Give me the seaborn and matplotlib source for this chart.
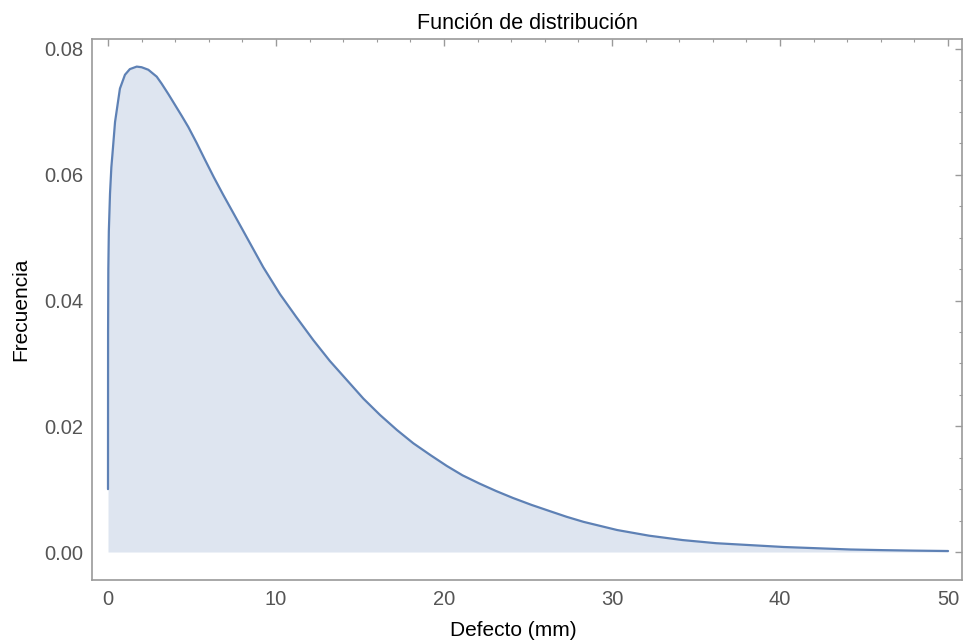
import matplotlib
matplotlib.use("Agg")
import matplotlib.pyplot as plt
from matplotlib.ticker import MultipleLocator, FormatStrFormatter
import seaborn as sns
import pandas as pd

# Values
defecto = [0.0, 0.005, 0.02, 0.05, 0.12, 0.2, 0.26, 0.42, 0.71, 1.01, 1.3,
           1.71, 2.0, 2.4, 2.9, 3.19, 3.6, 3.99, 4.38, 4.78, 5.27, 5.77, 6.3,
           6.86, 7.4, 7.96, 8.6, 9.24, 10.24, 11.2, 12.22, 13.2, 14.2, 15.2,
           16.19, 17.2, 18.17, 19.2, 20.16, 21.1, 22.1, 23.1, 24.1, 25.2, 26.3,
           27.3, 28.3, 30.3, 32.2, 34.2, 36.2, 38.2, 40.2, 42.2, 44.2, 46.1,
           48.0, 50.0]
frecuencia = [0.0100, 0.035, 0.045, 0.051, 0.057, 0.0612, 0.0631, 0.0684,
              0.0737, 0.0759, 0.0768, 0.0772, 0.0771, 0.0767, 0.0756, 0.0745,
              0.0728, 0.0711, 0.0694, 0.0676, 0.0651, 0.0624, 0.0596, 0.0568,
              0.0542, 0.0515, 0.0484, 0.0453, 0.0410, 0.0374, 0.0337, 0.0304,
              0.0274, 0.0244, 0.0218, 0.0194, 0.0173, 0.0154, 0.0137, 0.0122,
              0.0109, 0.0097, 0.0086, 0.0075, 0.0065, 0.0056, 0.0048, 0.0035,
              0.0026, 0.0019, 0.0014, 0.0011, 0.0008, 0.0006, 0.0004, 0.0003,
              0.00022, 0.00016]
x_ticks = [0, 10, 20, 30, 40, 50]
y_ticks = [0.00, 0.02, 0.04, 0.06, 0.08]
titulo = "Función de distribución"
x_label = "Defecto (mm)"
y_label = "Frecuencia"

df = pd.DataFrame({"Defecto": defecto, "Frecuencia": frecuencia})

sns.set_style("white")
plt.rcParams["font.family"] = ["Liberation Sans", "DejaVu Sans"]

line_color = "#5E81B5"
frame_color = "#9a9a9a"
tick_label_color = "#555555"

fig = plt.figure(figsize=(9.63, 6.43), dpi=100)
ax = fig.add_axes([92 / 963, 63 / 643, 870 / 963, 541 / 643])

ax.fill_between(df["Defecto"], 0, df["Frecuencia"], color=line_color,
                alpha=0.2, linewidth=0)
sns.lineplot(data=df, x="Defecto", y="Frecuencia", ax=ax, color=line_color,
             linewidth=1.6, sort=False)

ax.set_xlim(-0.952, 50.83)
ax.set_ylim(-0.00445, 0.08159)

ax.set_xticks(x_ticks)
ax.set_yticks(y_ticks)
ax.xaxis.set_minor_locator(MultipleLocator(2))
ax.yaxis.set_minor_locator(MultipleLocator(0.005))
ax.yaxis.set_major_formatter(FormatStrFormatter("%.2f"))
ax.xaxis.set_major_formatter(FormatStrFormatter("%d"))

ax.tick_params(which="both", direction="in", top=True, right=True,
               color=frame_color, labelcolor=tick_label_color, labelsize=14.5)
ax.tick_params(which="major", length=5, width=1)
ax.tick_params(which="minor", length=2.5, width=0.8)
ax.tick_params(axis="y", pad=6)
ax.tick_params(axis="x", pad=7)

for s in ax.spines.values():
    s.set_color(frame_color)
    s.set_linewidth(1.2)

ax.set_title(titulo, fontsize=15.5, color="black", pad=7)
ax.set_xlabel(x_label, fontsize=15, color="black", labelpad=9)
ax.set_ylabel(y_label, fontsize=15, color="black", labelpad=10)
ax.xaxis.set_label_coords((513 - 92) / 870, -0.075)
ax.grid(False)

fig.savefig("out.png", dpi=100)
